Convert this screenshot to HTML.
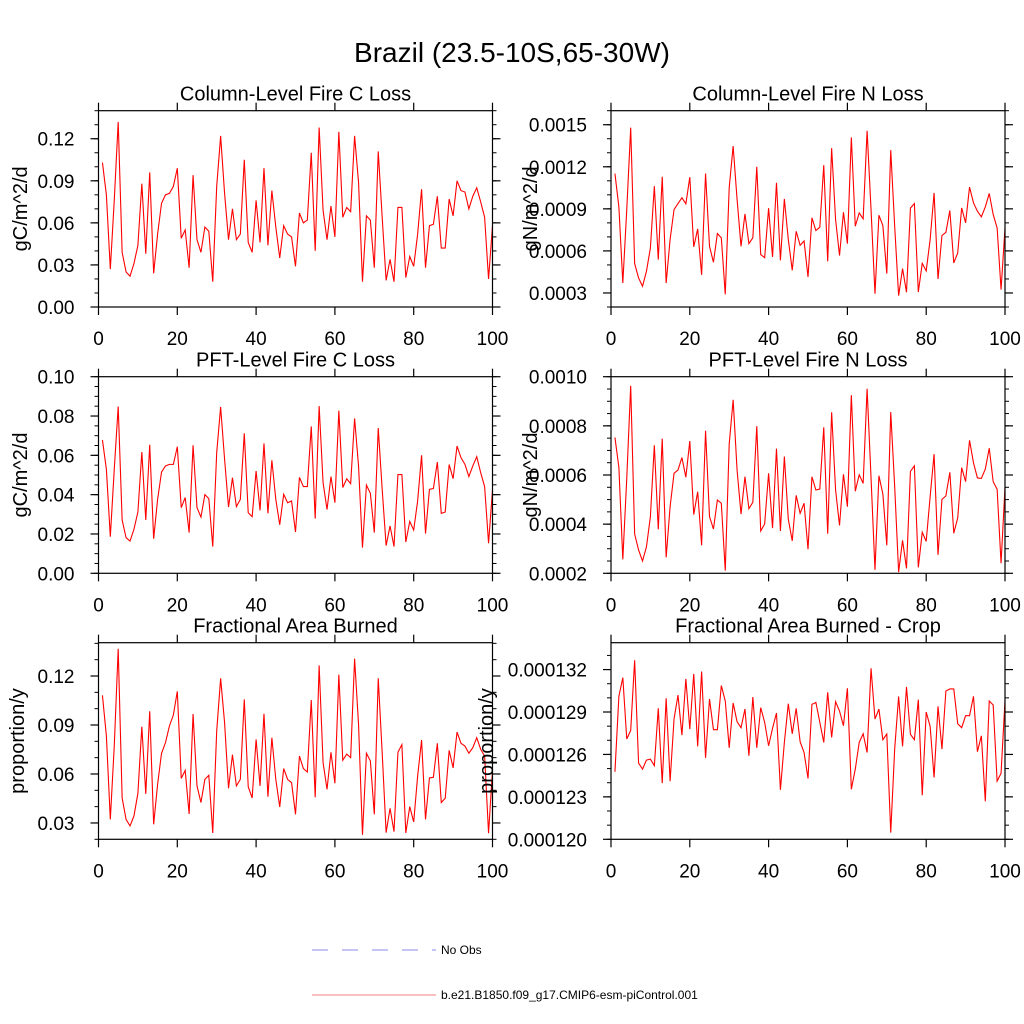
<!DOCTYPE html>
<html><head><meta charset="utf-8"><title>Brazil fire</title>
<style>
html,body{margin:0;padding:0;background:#fff;}
svg{display:block;font-family:"Liberation Sans",Arial,sans-serif;}
</style></head>
<body>
<svg id="chart" width="1024" height="1024" viewBox="0 0 1024 1024" xmlns="http://www.w3.org/2000/svg">
<rect width="1024" height="1024" fill="#fff"/>
<text x="512" y="62" text-anchor="middle" font-size="28">Brazil (23.5-10S,65-30W)</text>
<g id="panels"></g>
<g>
<line x1="312" y1="950" x2="436" y2="950" stroke="#8888ee" stroke-width="1" stroke-dasharray="16,14"/>
<text x="441" y="954" font-size="12">No Obs</text>
<line x1="312" y1="995" x2="436" y2="995" stroke="#f08080" stroke-width="1"/>
<text x="441" y="999" font-size="12">b.e21.B1850.f09_g17.CMIP6-esm-piControl.001</text>
</g>
</svg>
<script>
const years = Array.from({length:100},(_,i)=>i+1);
const xTicks = [0,20,40,60,80,100];

const colCLoss = [0.103,0.080,0.027,0.076,0.132,0.039,0.025,0.022,0.031,0.044,0.088,0.038,0.096,0.024,0.052,0.074,0.080,0.081,0.086,0.099,
0.049,0.055,0.028,0.094,0.048,0.039,0.057,0.054,0.018,0.086,0.122,0.081,0.048,0.070,0.048,0.052,0.105,0.046,0.039,0.076,
0.046,0.099,0.044,0.083,0.057,0.035,0.058,0.052,0.050,0.029,0.067,0.060,0.062,0.110,0.040,0.128,0.069,0.048,0.072,0.050,
0.125,0.064,0.071,0.068,0.122,0.089,0.018,0.065,0.062,0.028,0.111,0.064,0.019,0.034,0.018,0.071,0.071,0.021,0.036,0.029,
0.052,0.084,0.028,0.058,0.059,0.079,0.042,0.042,0.077,0.065,0.090,0.083,0.082,0.070,0.079,0.085,0.075,0.064,0.020,0.058];
const colCTicks = ["0.00","0.03","0.06","0.09","0.12"];

const colNLoss = [11.52,9.14,3.71,8.95,14.79,5.10,4.07,3.48,4.55,6.21,10.62,5.38,11.29,3.71,6.81,8.95,9.38,9.79,9.36,11.26,
6.29,7.57,4.29,11.52,6.33,5.19,7.24,6.93,2.90,10.50,13.48,9.67,6.33,8.64,6.52,6.93,12.00,5.74,5.52,9.05,
5.57,10.86,5.33,9.71,6.81,4.62,7.40,6.40,6.71,4.14,8.36,7.45,7.69,12.12,5.26,13.33,8.24,5.67,8.76,6.52,
14.10,7.76,8.71,8.29,14.57,8.95,2.95,8.55,7.81,4.38,13.19,7.76,2.81,4.74,3.05,9.05,9.38,3.07,5.12,4.57,
6.81,10.14,4.00,7.10,7.33,8.88,5.14,5.86,9.07,8.00,10.55,9.43,8.83,8.43,9.14,10.10,8.60,7.64,3.24,7.62].map(v=>v*1e-4);
const colNTicks = ["0.0003","0.0006","0.0009","0.0012","0.0015"];

const pftCLoss = [0.0678,0.0529,0.0186,0.0529,0.0848,0.0271,0.0181,0.0164,0.0224,0.0312,0.0617,0.0271,0.0654,0.0176,0.0376,0.0515,0.0546,0.0554,0.0554,0.0644,
0.0334,0.0385,0.0207,0.0651,0.0334,0.0286,0.0400,0.0380,0.0136,0.0614,0.0846,0.0580,0.0337,0.0486,0.0339,0.0376,0.0712,0.0308,0.0288,0.0520,
0.0320,0.0661,0.0305,0.0575,0.0376,0.0247,0.0402,0.0359,0.0368,0.0210,0.0488,0.0441,0.0441,0.0747,0.0278,0.0851,0.0461,0.0324,0.0492,0.0359,
0.0827,0.0436,0.0481,0.0456,0.0788,0.0546,0.0131,0.0449,0.0407,0.0207,0.0739,0.0427,0.0141,0.0241,0.0136,0.0502,0.0502,0.0159,0.0264,0.0220,
0.0368,0.0600,0.0202,0.0427,0.0431,0.0566,0.0305,0.0312,0.0553,0.0481,0.0647,0.0588,0.0554,0.0492,0.0546,0.0593,0.0512,0.0441,0.0153,0.0424];
const pftCTicks = ["0.00","0.02","0.04","0.06","0.08","0.10"];

const pftNLoss = [7.53,6.31,2.57,5.86,9.63,3.60,2.95,2.50,3.08,4.31,7.21,3.79,7.48,2.65,4.71,6.07,6.20,6.71,5.91,7.38,
4.39,5.32,3.14,7.80,4.31,3.80,4.98,4.85,2.11,7.26,9.06,6.20,4.41,5.93,4.63,4.89,7.99,3.72,4.01,6.07,
3.84,7.07,3.72,6.75,4.20,3.32,5.17,4.44,4.85,2.98,5.93,5.39,5.43,7.94,3.61,8.55,5.39,3.95,6.03,4.71,
9.25,5.34,6.01,5.66,9.51,5.89,2.14,5.97,5.23,3.14,8.56,5.53,2.05,3.34,2.20,6.15,6.37,2.24,3.67,3.30,
5.12,6.85,2.75,5.01,5.15,6.11,3.63,4.26,6.30,5.73,7.41,6.50,5.88,5.86,6.24,7.09,5.73,5.42,2.41,5.50].map(v=>v*1e-4);
const pftNTicks = ["0.0002","0.0004","0.0006","0.0008","0.0010"];

const areaBurned = [0.1082,0.0833,0.0322,0.0771,0.1367,0.0453,0.0322,0.0282,0.0343,0.0482,0.0890,0.0478,0.0984,0.0292,0.0537,0.0727,0.0792,0.0894,0.0961,0.1106,
0.0573,0.0622,0.0355,0.0967,0.0527,0.0425,0.0567,0.0592,0.0239,0.0863,0.1186,0.0914,0.0512,0.0718,0.0527,0.0567,0.1057,0.0522,0.0453,0.0812,
0.0527,0.0969,0.0461,0.0822,0.0567,0.0398,0.0633,0.0567,0.0547,0.0353,0.0710,0.0633,0.0612,0.1053,0.0457,0.1265,0.0669,0.0506,0.0733,0.0543,
0.1208,0.0684,0.0722,0.0700,0.1306,0.0904,0.0227,0.0727,0.0680,0.0353,0.1186,0.0731,0.0241,0.0390,0.0247,0.0733,0.0780,0.0239,0.0400,0.0306,
0.0588,0.0808,0.0322,0.0576,0.0580,0.0788,0.0425,0.0451,0.0745,0.0637,0.0857,0.0788,0.0771,0.0727,0.0761,0.0822,0.0751,0.0710,0.0237,0.0625];
const areaTicks = ["0.03","0.06","0.09","0.12"];

const cropBurned = [124.77,130.11,131.43,127.09,127.70,132.66,125.39,124.96,125.60,125.67,125.20,129.26,123.97,129.97,124.11,128.50,130.20,127.37,131.34,127.79,
131.69,126.57,131.86,125.76,129.92,127.75,127.75,130.87,129.78,126.47,129.64,128.31,127.89,129.21,125.91,130.06,126.47,129.31,128.27,126.61,
127.84,128.93,123.50,126.85,129.59,127.46,129.26,126.90,126.14,124.30,129.54,129.68,128.27,126.85,130.39,127.20,129.73,129.07,128.03,130.68,
123.54,124.96,126.85,127.46,126.14,132.09,128.50,129.21,127.04,127.44,120.47,126.38,130.09,126.57,130.77,127.42,127.04,129.87,123.12,129.00,
127.98,124.37,129.40,126.38,130.49,130.63,130.63,128.17,127.89,128.74,128.74,130.11,126.19,127.32,122.69,129.78,129.50,124.11,124.67,129.80].map(v=>v*1e-6);
const cropTicks = ["0.000120","0.000123","0.000126","0.000129","0.000132"];

const NS="http://www.w3.org/2000/svg";
const root=document.getElementById('panels');
function mk(tag,attrs,parent){const e=document.createElementNS(NS,tag);for(const k in attrs)e.setAttribute(k,attrs[k]);parent.appendChild(e);return e;}

const panels=[
 {key:'col-c',title:'Column-Level Fire C Loss',ytitle:'gC/m^2/d',data:colCLoss,ticks:colCTicks,ymin:0,ymax:0.14,minor:0.01,L:98.5,T:110.7,B:307,ytx:20},
 {key:'col-n',title:'Column-Level Fire N Loss',ytitle:'gN/m^2/d',data:colNLoss,ticks:colNTicks,ymin:0.0002,ymax:0.0016,minor:0.0001,L:611,T:110.7,B:307,ytx:530},
 {key:'pft-c',title:'PFT-Level Fire C Loss',ytitle:'gC/m^2/d',data:pftCLoss,ticks:pftCTicks,ymin:0,ymax:0.1,minor:0.005,L:98.5,T:376.7,B:573.3,ytx:20},
 {key:'pft-n',title:'PFT-Level Fire N Loss',ytitle:'gN/m^2/d',data:pftNLoss,ticks:pftNTicks,ymin:0.0002,ymax:0.0010,minor:0.00005,L:611,T:376.7,B:573.3,ytx:530},
 {key:'area',title:'Fractional Area Burned',ytitle:'proportion/y',data:areaBurned,ticks:areaTicks,ymin:0.02,ymax:0.1404,minor:0.01,L:98.5,T:642.7,B:839.3,ytx:17},
 {key:'crop',title:'Fractional Area Burned - Crop',ytitle:'proportion/y',data:cropBurned,ticks:cropTicks,ymin:0.000120,ymax:0.0001339,minor:0.000001,L:611,T:642.7,B:839.3,ytx:486}
];
const W=394;
panels.forEach(p=>{
  const g=mk('g',{},root);
  
  
  const R=p.L+W;
  const xs=v=>p.L+(v/100)*W;
  const ys=v=>p.B-(v-p.ymin)/(p.ymax-p.ymin)*(p.B-p.T);
  const t=mk('text',{x:(p.L+R)/2,y:p.T-10,'text-anchor':'middle','font-size':20},g);
  t.textContent=p.title;
  
  
  const yt=mk('text',{x:p.ytx,y:(p.T+p.B)/2,'text-anchor':'middle','font-size':20,transform:`rotate(-90 ${p.ytx} ${(p.T+p.B)/2})`,dy:7},g);
  yt.textContent=p.ytitle;
  
  
  const pts=p.data.map((v,i)=>xs(years[i]).toFixed(2)+','+ys(v).toFixed(2)).join(' ');
  const line=mk('polyline',{points:pts,fill:'none',stroke:'#ff0000','stroke-width':1.1,'stroke-linejoin':'miter'},g);
  
  
  const fr=mk('rect',{x:p.L,y:p.T,width:W,height:p.B-p.T,fill:'none',stroke:'#000','stroke-width':1.2},g);
  
  
  xTicks.forEach(v=>{
    const x=xs(v);
    mk('line',{x1:x,y1:p.B,x2:x,y2:p.B+8,stroke:'#000','stroke-width':1.2},g);
    mk('line',{x1:x,y1:p.T,x2:x,y2:p.T-8,stroke:'#000','stroke-width':1.2},g);
    const tl=mk('text',{x:x,y:p.B+38,'text-anchor':'middle','font-size':19},g);
    tl.textContent=String(v);
    
    
  });
  const n=Math.round((p.ymax-p.ymin)/p.minor);
  for(let k=0;k<=n;k++){
    const v=p.ymin+k*p.minor; if(v>p.ymax+1e-12)break;
    const y=ys(v);
    mk('line',{x1:p.L,y1:y,x2:p.L-4,y2:y,stroke:'#000','stroke-width':1},g);
    mk('line',{x1:R,y1:y,x2:R+4,y2:y,stroke:'#000','stroke-width':1},g);
  }
  p.ticks.forEach(s=>{
    const y=ys(parseFloat(s));
    mk('line',{x1:p.L,y1:y,x2:p.L-8,y2:y,stroke:'#000','stroke-width':1.2},g);
    mk('line',{x1:R,y1:y,x2:R+8,y2:y,stroke:'#000','stroke-width':1.2},g);
    const tl=mk('text',{x:p.L-24,y:y+7,'text-anchor':'end','font-size':19},g);
    tl.textContent=s;
    
    
  });
});
</script>
</body></html>
